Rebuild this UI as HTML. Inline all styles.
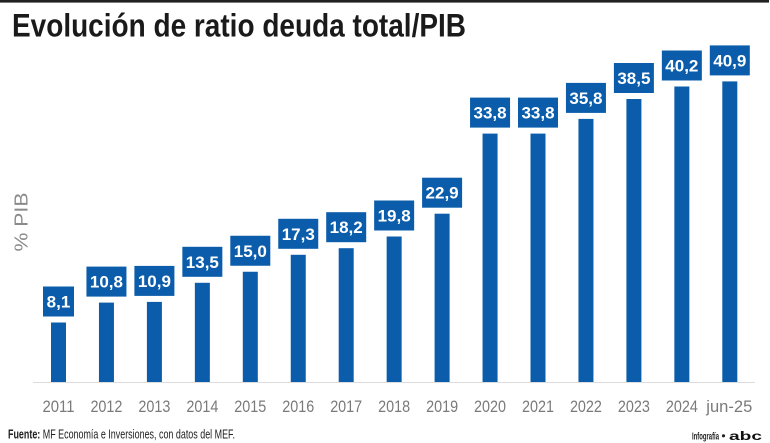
<!DOCTYPE html>
<html><head><meta charset="utf-8"><style>
html,body{margin:0;padding:0;background:#fff;}
svg{display:block;}
</style></head><body>
<svg width="770" height="443" viewBox="0 0 770 443" xmlns="http://www.w3.org/2000/svg">
<rect x="0" y="0" width="770" height="443" fill="#fff"/>
<rect x="0" y="0" width="769" height="2.6" fill="#222"/>
<text x="12" y="36.5" font-family="Liberation Sans, sans-serif" font-weight="bold" font-size="32.5" fill="#1a1a1a" textLength="454" lengthAdjust="spacingAndGlyphs">Evolución de ratio deuda total/PIB</text>

<text transform="translate(27.5,222) rotate(-90)" text-anchor="middle" font-family="Liberation Sans, sans-serif" font-size="18" fill="#8a8a8a" textLength="59" lengthAdjust="spacingAndGlyphs">% PIB</text>

<line x1="33" y1="382.5" x2="755" y2="382.5" stroke="#dcdcdc" stroke-width="1"/>

<g fill="#0b5dab">
<rect x="51" y="322.5" width="15" height="59.5"/>
<rect x="98.95" y="302.6" width="15" height="79.4"/>
<rect x="146.9" y="301.9" width="15" height="80.1"/>
<rect x="194.85" y="282.8" width="15" height="99.2"/>
<rect x="242.8" y="271.75" width="15" height="110.25"/>
<rect x="290.75" y="254.8" width="15" height="127.2"/>
<rect x="338.7" y="248.2" width="15" height="133.8"/>
<rect x="386.65" y="236.5" width="15" height="145.5"/>
<rect x="434.6" y="213.7" width="15" height="168.3"/>
<rect x="482.55" y="133.6" width="15" height="248.4"/>
<rect x="530.5" y="133.6" width="15" height="248.4"/>
<rect x="578.45" y="118.9" width="15" height="263.1"/>
<rect x="626.4" y="99" width="15" height="283"/>
<rect x="674.35" y="86.5" width="15" height="295.5"/>
<rect x="722.3" y="81.4" width="15" height="300.6"/>

<rect x="43" y="286.5" width="31" height="30"/>
<rect x="86.45" y="266.6" width="40" height="30"/>
<rect x="134.4" y="265.9" width="40" height="30"/>
<rect x="182.35" y="246.8" width="40" height="30"/>
<rect x="230.3" y="235.75" width="40" height="30"/>
<rect x="278.25" y="218.8" width="40" height="30"/>
<rect x="326.2" y="212.2" width="40" height="30"/>
<rect x="374.15" y="200.5" width="40" height="30"/>
<rect x="422.1" y="177.7" width="40" height="30"/>
<rect x="470.05" y="97.6" width="40" height="30"/>
<rect x="518" y="97.6" width="40" height="30"/>
<rect x="565.95" y="82.9" width="40" height="30"/>
<rect x="613.9" y="63" width="40" height="30"/>
<rect x="661.85" y="50.5" width="40" height="30"/>
<rect x="709.8" y="45.4" width="40" height="30"/>
</g>

<g font-family="Liberation Sans, sans-serif" font-weight="bold" font-size="17" fill="#fff" text-anchor="middle">
<text x="58.5" y="307.5">8,1</text>
<text x="106.45" y="287.6">10,8</text>
<text x="154.4" y="286.9">10,9</text>
<text x="202.35" y="267.8">13,5</text>
<text x="250.3" y="256.75">15,0</text>
<text x="298.25" y="239.8">17,3</text>
<text x="346.2" y="233.2">18,2</text>
<text x="394.15" y="221.5">19,8</text>
<text x="442.1" y="198.7">22,9</text>
<text x="490.05" y="118.6">33,8</text>
<text x="538" y="118.6">33,8</text>
<text x="585.95" y="103.9">35,8</text>
<text x="633.9" y="84">38,5</text>
<text x="681.85" y="71.5">40,2</text>
<text x="729.8" y="66.4">40,9</text>
</g>

<g font-family="Liberation Sans, sans-serif" font-size="16.5" fill="#7a7a7a" text-anchor="middle" lengthAdjust="spacingAndGlyphs">
<text x="58.5" y="412" textLength="32" lengthAdjust="spacingAndGlyphs">2011</text>
<text x="106.45" y="412" textLength="32" lengthAdjust="spacingAndGlyphs">2012</text>
<text x="154.4" y="412" textLength="32" lengthAdjust="spacingAndGlyphs">2013</text>
<text x="202.35" y="412" textLength="32" lengthAdjust="spacingAndGlyphs">2014</text>
<text x="250.3" y="412" textLength="32" lengthAdjust="spacingAndGlyphs">2015</text>
<text x="298.25" y="412" textLength="32" lengthAdjust="spacingAndGlyphs">2016</text>
<text x="346.2" y="412" textLength="32" lengthAdjust="spacingAndGlyphs">2017</text>
<text x="394.15" y="412" textLength="32" lengthAdjust="spacingAndGlyphs">2018</text>
<text x="442.1" y="412" textLength="32" lengthAdjust="spacingAndGlyphs">2019</text>
<text x="490.05" y="412" textLength="32" lengthAdjust="spacingAndGlyphs">2020</text>
<text x="538" y="412" textLength="32" lengthAdjust="spacingAndGlyphs">2021</text>
<text x="585.95" y="412" textLength="32" lengthAdjust="spacingAndGlyphs">2022</text>
<text x="633.9" y="412" textLength="32" lengthAdjust="spacingAndGlyphs">2023</text>
<text x="681.85" y="412" textLength="32" lengthAdjust="spacingAndGlyphs">2024</text>
<text x="729.3" y="412" textLength="46" lengthAdjust="spacingAndGlyphs">jun-25</text>
</g>

<text x="8" y="438.3" font-family="Liberation Sans, sans-serif" font-size="12.5" fill="#222" textLength="227" lengthAdjust="spacingAndGlyphs"><tspan font-weight="bold">Fuente:</tspan> MF Economía e Inversiones, con datos del MEF.</text>

<text x="692" y="439.5" font-family="Liberation Sans, sans-serif" font-weight="bold" font-size="10.5" fill="#222" textLength="27" lengthAdjust="spacingAndGlyphs">Infografía</text>
<circle cx="723.5" cy="435.8" r="1.6" fill="#222"/>
<text x="729" y="440" font-family="Liberation Sans, sans-serif" font-weight="bold" font-size="12" fill="#111" textLength="33" lengthAdjust="spacingAndGlyphs">abc</text>
</svg>
</body></html>
